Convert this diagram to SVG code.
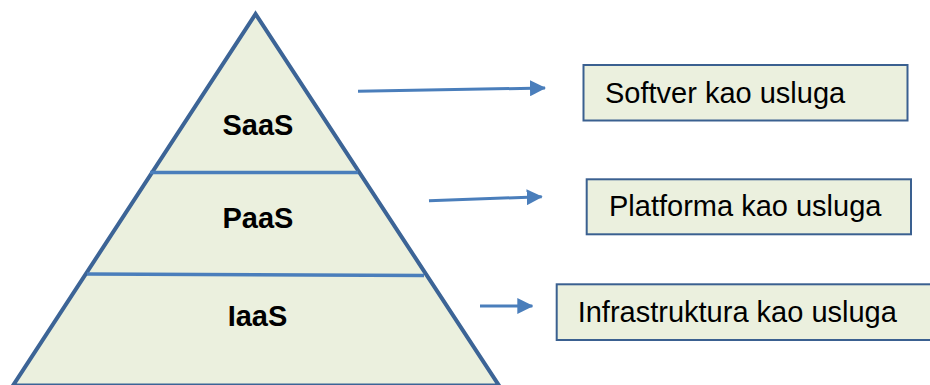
<svg xmlns="http://www.w3.org/2000/svg" width="930" height="385" viewBox="0 0 930 385">
<style>
.tier{font-family:"Liberation Sans",Arial,sans-serif;font-size:29px;font-weight:bold;fill:#000;text-anchor:middle}
.lbl{font-family:"Liberation Sans",Arial,sans-serif;font-size:29px;fill:#000}
.box{fill:#ebf0de;stroke:#3a6090;stroke-width:2}
.div{stroke:#4a7ebb;stroke-width:3.5;fill:none}
.arr{stroke:#4a7ebb;stroke-width:3;fill:none}
</style>
<defs>
<marker id="ah" markerUnits="userSpaceOnUse" markerWidth="16" markerHeight="16" viewBox="0 0 16 16" refX="15" refY="8" orient="auto">
<path d="M0,0 L16,8 L0,16 Z" fill="#4a7ebb"/>
</marker>
</defs>
<g id="pyramid">
<polygon points="255.5,14 13,385.5 499,385.5" fill="#ebf0de" stroke="#3c6496" stroke-width="4" stroke-linejoin="miter"/>
<line class="div" x1="150" y1="172.5" x2="358" y2="172.5"/>
<line class="div" x1="87" y1="274" x2="424" y2="275.5"/>
</g>
<g id="saas"><text class="tier" x="258" y="135">SaaS</text></g>
<g id="paas"><text class="tier" x="258" y="228">PaaS</text></g>
<g id="iaas"><text class="tier" x="257.5" y="326">IaaS</text></g>
<g id="connectors">
<line class="arr" x1="358" y1="91.3" x2="545" y2="88" marker-end="url(#ah)"/>
<line class="arr" x1="429" y1="200.7" x2="541.7" y2="196.7" marker-end="url(#ah)"/>
<line class="arr" x1="480" y1="306" x2="532.3" y2="306" marker-end="url(#ah)"/>
</g>
<g id="box-saas">
<rect class="box" x="583.5" y="65" width="324" height="55.5"/>
<text class="lbl" x="605" y="103.3">Softver kao usluga</text>
</g>
<g id="box-paas">
<rect class="box" x="586.7" y="179.3" width="324.3" height="55"/>
<text class="lbl" x="609" y="215.7">Platforma kao usluga</text>
</g>
<g id="box-iaas">
<rect class="box" x="556.7" y="284.3" width="380" height="55.7"/>
<text class="lbl" x="577.7" y="321.7">Infrastruktura kao usluga</text>
</g>
</svg>
